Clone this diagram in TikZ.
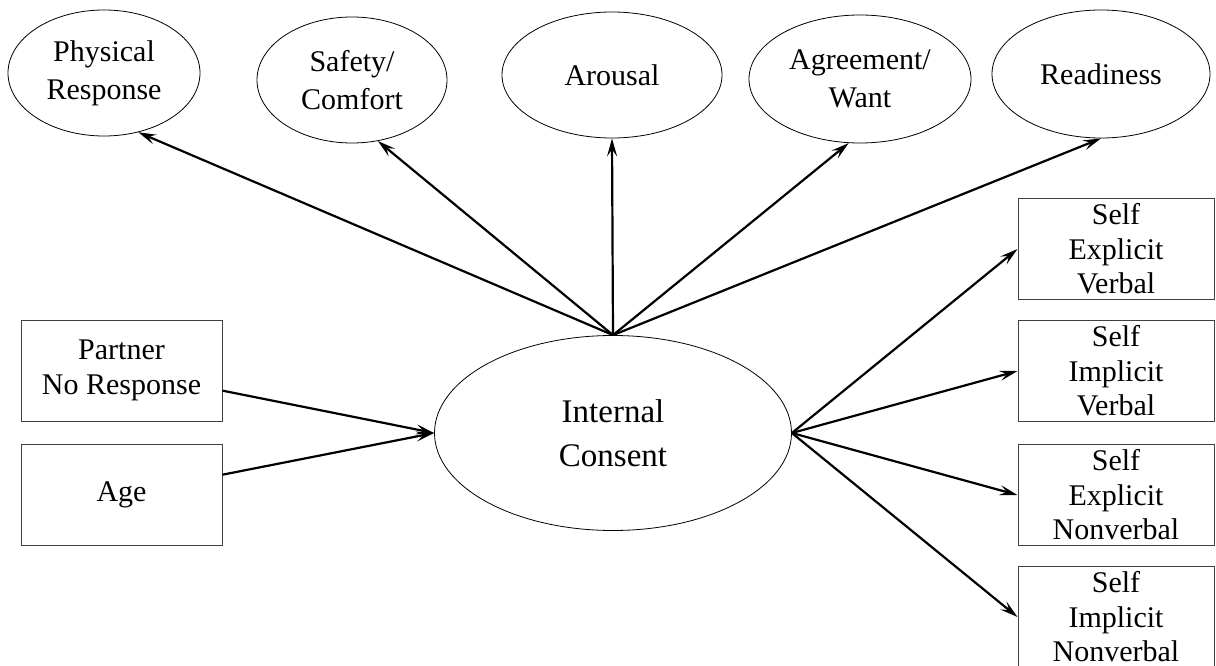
\documentclass[tikz,border=0pt]{standalone}
\usepackage{fontspec}
\setmainfont{LiberationSerif}[Extension=.ttf,UprightFont=*-Regular,BoldFont=*-Bold]
\usetikzlibrary{arrows.meta,positioning,shapes.geometric}

\begin{document}
\begin{tikzpicture}[
  x=1pt, y=-1pt,
  node distance=20pt and 40pt,
  oval/.style={draw,ellipse,inner sep=0pt,minimum width=192pt,minimum height=126pt,align=center,font=\fontsize{30}{38}\selectfont,line width=0.8pt},
  var/.style={draw=black!75,rectangle,inner sep=0pt,minimum width=198pt,minimum height=101pt,align=center,font=\fontsize{30}{34.5}\selectfont,line width=1pt},
  arr/.style={-{Stealth[length=18pt,width=10pt,inset=7pt]},line width=2.2pt},
]
\useasboundingbox (0,0) rectangle (1216,666);

% latent construct in the middle
\node[oval,minimum width=357pt,minimum height=195pt,font=\fontsize{33}{44}\selectfont] (ic) at (613,433) {Internal\\Consent};

% indicators along the top
\node[oval] (phys) at (104,73) {Physical\\Response};
\node[oval,minimum width=190pt] (safe) at (352,80) {Safety/\\Comfort};
\node[oval,minimum width=220pt] (arousal) at (612,75) {Arousal};
\node[oval,minimum width=222pt,minimum height=128pt] (agree) at (860,79) {Agreement/\\Want};
\node[oval,minimum width=218pt,minimum height=128pt] (ready) at (1101,74) {Readiness};

% predictors
\node[var,minimum width=201pt] (partner) at (121.5,370.5) {Partner\\No Response};
\node[var,minimum width=201pt,below=22pt of partner] (age) {Age};

% outcomes
\node[var,minimum width=196pt] (sev) at (1116,249) {Self\\Explicit\\Verbal};
\node[var,minimum width=196pt,below=20pt of sev] (siv) {Self\\Implicit\\Verbal};
\node[var,minimum width=196pt,below=22pt of siv] (sen) {Self\\Explicit\\Nonverbal};
\node[var,minimum width=196pt,below=20pt of sen] (sin) {Self\\Implicit\\Nonverbal};

\draw[arr] (ic.north) -- (phys.-60);
\draw[arr] (ic.north) -- (safe.-67);
\draw[arr] (ic.north) -- (arousal.south);
\draw[arr] (ic.north) -- (agree.-100);
\draw[arr] (ic.north) -- (ready.south);
\draw[arr] (partner) -- (ic.west);
\draw[arr] (age) -- (ic.west);
\draw[arr] (ic.east) -- (sev.west);
\draw[arr] (ic.east) -- (siv.west);
\draw[arr] (ic.east) -- (sen.west);
\draw[arr] (ic.east) -- (sin.west);
\end{tikzpicture}
\end{document}
